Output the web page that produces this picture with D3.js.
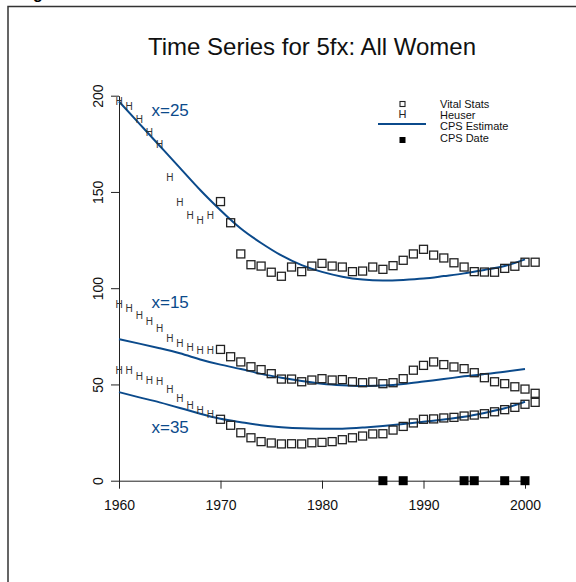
<!DOCTYPE html>
<html>
<head>
<meta charset="utf-8">
<script src="https://cdn.jsdelivr.net/npm/d3@7"></script>
<style>
  body { margin: 0; background: #fff; }
  svg { font-family: "Liberation Sans", Arial, sans-serif; }
</style>
</head>
<body>
<div id="chart"></div>
<script>
const width = 576;
const height = 582;
const blueCol = "#0b4a8b";
const inkCol = "#222";

// Heuser estimates (H), 1960-1969
const heuserYears = [1960, 1961, 1962, 1963, 1964, 1965, 1966, 1967, 1968, 1969];
const heuser15 = [91.6, 89.4, 85.9, 82.6, 79.0, 73.8, 71.4, 69.1, 67.7, 67.7];
const heuser25 = [196.9, 194.6, 187.7, 181.0, 174.7, 157.6, 144.4, 137.9, 135.3, 137.9];
const heuser35 = [57.3, 57.3, 54.0, 52.3, 51.4, 47.6, 42.8, 39.2, 36.7, 34.6];

// Vital Stats (open squares), 1970-2001
const vitalYears = [1970, 1971, 1972, 1973, 1974, 1975, 1976, 1977, 1978, 1979, 1980,
  1981, 1982, 1983, 1984, 1985, 1986, 1987, 1988, 1989, 1990, 1991, 1992, 1993,
  1994, 1995, 1996, 1997, 1998, 1999, 2000, 2001];
const vital15 = [68.2, 64.4, 61.7, 59.2, 57.7, 55.6, 52.8, 52.8, 51.4, 52.3, 53.0,
  52.3, 52.5, 51.4, 50.9, 51.3, 50.4, 50.9, 53.0, 57.4, 59.9, 61.7, 60.3, 59.1,
  58.2, 56.1, 53.5, 51.4, 50.4, 48.8, 47.6, 45.4];
const vital25 = [145.0, 134.0, 117.8, 112.2, 111.5, 108.3, 106.2, 111.0, 108.6, 111.5, 112.9,
  111.5, 111.0, 108.6, 108.9, 111.0, 109.8, 111.7, 114.5, 117.8, 120.2, 117.2, 115.7, 113.2,
  111.0, 108.6, 108.4, 108.3, 110.3, 111.4, 113.5, 113.5];
const vital35 = [31.9, 28.8, 24.9, 22.3, 20.3, 19.6, 19.1, 19.2, 19.1, 19.7, 19.9,
  20.3, 21.3, 22.3, 23.2, 24.3, 24.4, 26.3, 28.2, 30.0, 31.9, 32.1, 32.6, 32.9,
  33.6, 34.1, 34.8, 35.8, 36.9, 38.1, 39.7, 40.7];

// CPS estimate curves
const cpsYears = [1960, 1962, 1964, 1966, 1968, 1970, 1972, 1974, 1976, 1978, 1980,
  1982, 1984, 1986, 1988, 1990, 1992, 1994, 1996, 1998, 2000];
const cps15 = [73.5, 71.2, 68.8, 66.2, 63.0, 60.3, 58.0, 55.5, 53.5, 51.8, 50.4,
  49.6, 49.2, 49.4, 50.2, 51.5, 52.8, 54.2, 55.4, 56.6, 58.0];
const cps25 = [197, 185.5, 174, 162.5, 151, 140.5, 131, 123.5, 117, 112, 108.5,
  106, 104.5, 104, 104.3, 105, 106.3, 107.7, 109.5, 111.5, 115];
const cps35 = [46, 43.3, 40.7, 37.8, 34.8, 32.2, 30.4, 28.8, 27.8, 27.2, 27.0,
  27.0, 27.6, 28.4, 29.4, 30.6, 31.8, 33.2, 35.2, 37.6, 41];

// CPS survey dates
const cpsDates = [1986, 1988, 1994, 1995, 1998, 2000];

const xTicks = [1960, 1970, 1980, 1990, 2000];
const yTicks = [0, 50, 100, 150, 200];

const series = [
  {label: "x=15", labelAt: [1963.2, 89.9], heuser: heuser15, vital: vital15, cps: cps15},
  {label: "x=25", labelAt: [1963.2, 189.5], heuser: heuser25, vital: vital25, cps: cps25},
  {label: "x=35", labelAt: [1963.2, 24.9], heuser: heuser35, vital: vital35, cps: cps35}
];

const svg = d3.select("#chart").append("svg")
  .attr("width", width)
  .attr("height", height);

// outer frame (top and left edge visible)
svg.append("path")
  .attr("d", "M8,582 L8,6.5 L576,6.5")
  .attr("fill", "none")
  .attr("stroke", "#333")
  .attr("stroke-width", 1.5);

// caption cut off by the top of the picture
svg.append("text")
  .attr("x", 33)
  .attr("y", -1)
  .style("font-size", "16px")
  .style("font-weight", "bold")
  .text("g");

const xScale = d3.scaleLinear().domain([1960, 2000]).range([119, 525]);
const yScale = d3.scaleLinear().domain([0, 200]).range([480.7, 95.7]);

/// axes ///
svg.append("g")
  .attr("transform", `translate(0, ${yScale(0)})`)
  .call(d3.axisBottom(xScale).tickValues(xTicks).tickFormat(d3.format("d")).tickSize(8).tickSizeOuter(0))
  .call(g => g.select(".domain").attr("stroke", inkCol))
  .call(g => g.selectAll(".tick line").attr("stroke", inkCol))
  .call(g => g.selectAll("text")
    .attr("y", 29).attr("dy", 0)
    .style("font-size", "14px")
    .attr("fill", "#111"));

svg.append("g")
  .attr("transform", `translate(${xScale(1960)}, 0)`)
  .call(d3.axisLeft(yScale).tickValues(yTicks).tickSize(8).tickSizeOuter(0))
  .call(g => g.select(".domain").attr("stroke", inkCol))
  .call(g => g.selectAll(".tick line").attr("stroke", inkCol))
  .call(g => g.selectAll("text")
    .attr("transform", "rotate(-90)")
    .attr("x", 0).attr("y", -16).attr("dy", 0)
    .attr("text-anchor", "middle")
    .style("font-size", "14px")
    .attr("fill", "#111"));

/// title ///
svg.append("text")
  .attr("x", 312)
  .attr("y", 55)
  .attr("text-anchor", "middle")
  .style("font-size", "24px")
  .attr("fill", "#111")
  .text("Time Series for 5fx: All Women");

const line = d3.line()
  .x((d, i) => xScale(cpsYears[i]))
  .y(d => yScale(d))
  .curve(d3.curveNatural);

const plotG = svg.append("g");

series.forEach(s => {
  plotG.append("path")
    .attr("d", line(s.cps))
    .attr("fill", "none")
    .attr("stroke", blueCol)
    .attr("stroke-width", 2);

  plotG.selectAll(null)
    .data(s.heuser)
    .join("text")
    .attr("x", (d, i) => xScale(heuserYears[i]))
    .attr("y", d => yScale(d))
    .attr("dy", "0.36em")
    .attr("text-anchor", "middle")
    .style("font-size", "10px")
    .attr("fill", "#333")
    .text("H");

  plotG.selectAll(null)
    .data(s.vital)
    .join("rect")
    .attr("x", (d, i) => xScale(vitalYears[i]) - 4)
    .attr("y", d => yScale(d) - 4)
    .attr("width", 8)
    .attr("height", 8)
    .attr("fill", "none")
    .attr("stroke", inkCol)
    .attr("stroke-width", 1.3);

  svg.append("text")
    .attr("x", xScale(s.labelAt[0]))
    .attr("y", yScale(s.labelAt[1]))
    .style("font-size", "17px")
    .attr("fill", blueCol)
    .text(s.label);
});

// CPS dates on the zero line
plotG.selectAll(".cps-date")
  .data(cpsDates)
  .join("rect")
  .attr("class", "cps-date")
  .attr("x", d => xScale(d) - 4.5)
  .attr("y", yScale(0) - 4.5)
  .attr("width", 9)
  .attr("height", 9)
  .attr("fill", "#000");

/// legend ///
const legend = svg.append("g").style("font-size", "11px");
const legendItems = ["Vital Stats", "Heuser", "CPS Estimate", "CPS Date"];
const legendY = [104, 115, 126, 138];

legend.selectAll("text.lab")
  .data(legendItems)
  .join("text")
  .attr("class", "lab")
  .attr("x", 440)
  .attr("y", (d, i) => legendY[i])
  .attr("dy", "0.36em")
  .attr("fill", "#111")
  .text(d => d);

legend.append("rect")
  .attr("x", 400).attr("y", 101.5)
  .attr("width", 5).attr("height", 5)
  .attr("fill", "none").attr("stroke", inkCol).attr("stroke-width", 1.1);
legend.append("text")
  .attr("x", 402.5).attr("y", 114)
  .attr("dy", "0.36em")
  .attr("text-anchor", "middle")
  .style("font-size", "11px")
  .attr("fill", "#222")
  .text("H");
legend.append("line")
  .attr("x1", 378).attr("x2", 426)
  .attr("y1", 124).attr("y2", 124)
  .attr("stroke", blueCol).attr("stroke-width", 2);
legend.append("rect")
  .attr("x", 399.5).attr("y", 137)
  .attr("width", 6).attr("height", 6)
  .attr("fill", "#000");
</script>
</body>
</html>
